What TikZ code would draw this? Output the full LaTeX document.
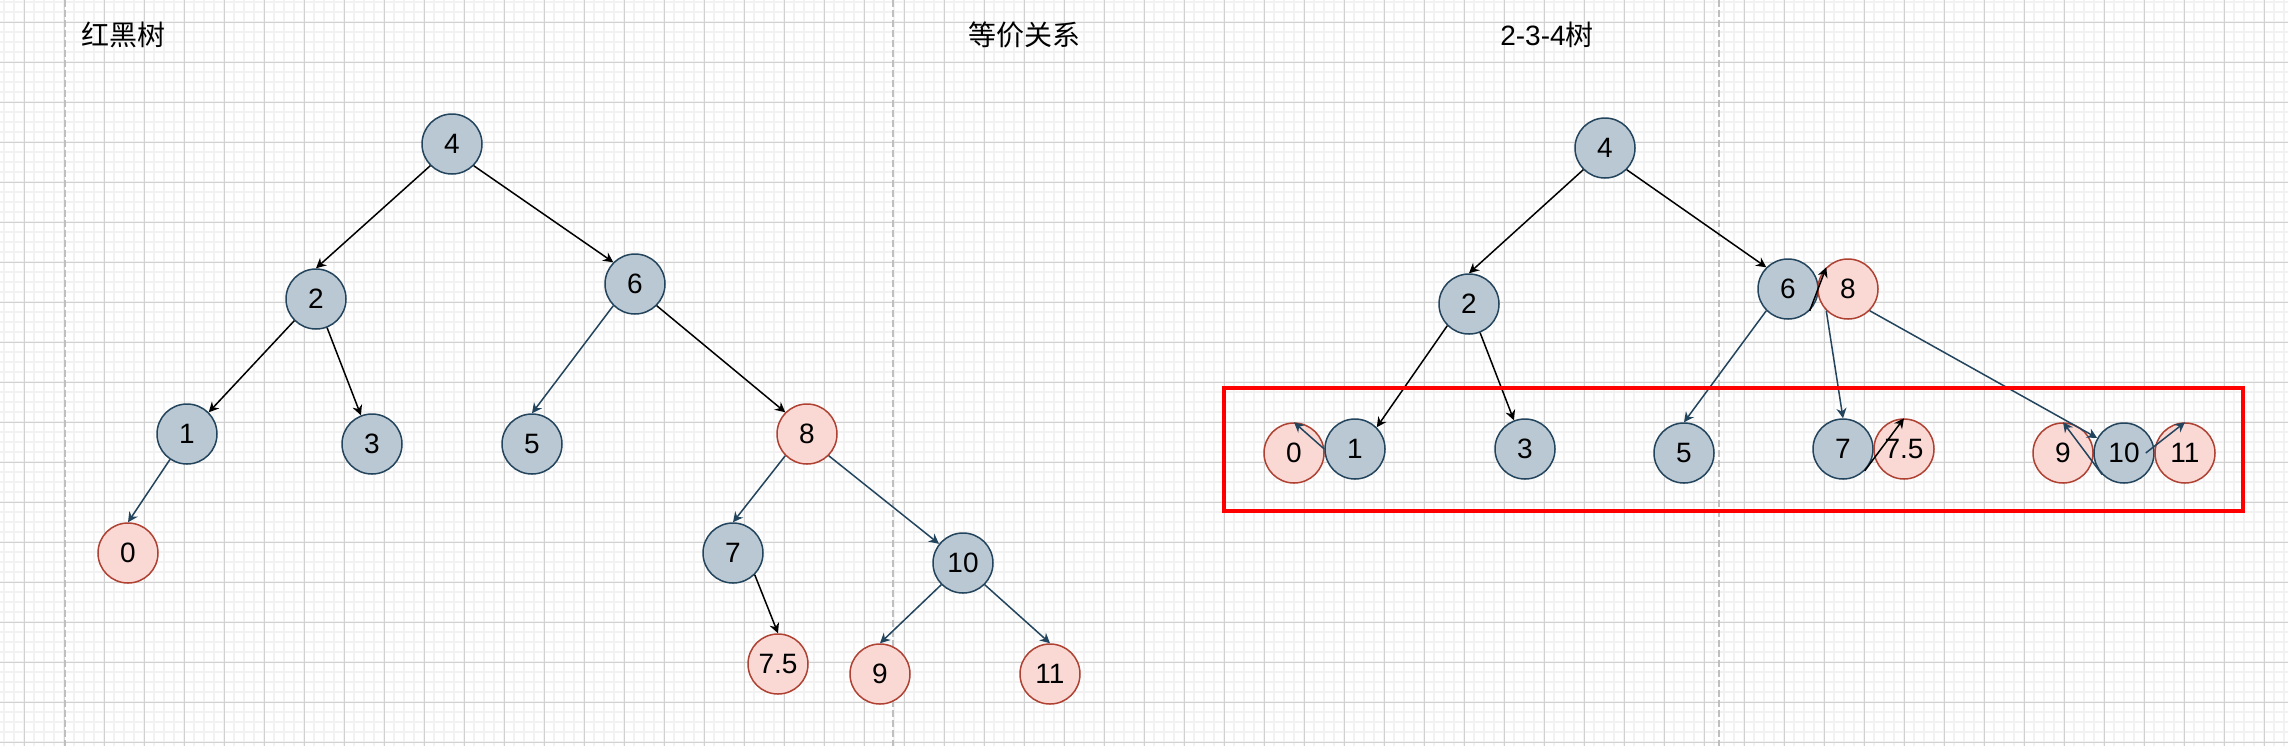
\documentclass[tikz,border=0pt]{standalone}
\usepackage{fontspec}
\setmainfont{Liberation Sans}
\newfontfamily\cjk{Noto Sans CJK SC}
\usetikzlibrary{arrows.meta}
\definecolor{bkfill}{HTML}{BAC8D3}
\definecolor{bkline}{HTML}{23445D}
\definecolor{rdfill}{HTML}{FAD9D5}
\definecolor{rdline}{HTML}{AE4132}
\begin{document}
\begin{tikzpicture}[>={Stealth[length=5pt,width=5pt]}, x=.5pt, y=-.5pt,
    blk/.style={circle, draw=bkline, fill=bkfill, line width=.75pt, minimum size=30pt, inner sep=0pt, font=\fontsize{14}{16}\selectfont},
    rd/.style={blk, draw=rdline, fill=rdfill},
    blue/.style={->, draw=bkline, line width=.75pt},
    blck/.style={->, draw=black, line width=.75pt},
    title/.style={font=\fontsize{14}{16}\selectfont}]
\fill[white](0,0) rectangle (2288,746);
\useasboundingbox (0,0) rectangle (2288,746);
% grid
\foreach \x in {4,14,...,2284}
{
    \draw[black!5, line width=.75pt](\x,0)--(\x,746);
}
\foreach \y in {2,12,...,742}
{
    \draw[black!5, line width=.75pt](0,\y)--(2288,\y);
}
\foreach \x in {24,64,...,2264}
{
    \draw[black!18, line width=.5pt](\x,0)--(\x,746);
}
\foreach \y in {22,62,...,742}
{
    \draw[black!18, line width=.5pt](0,\y)--(2288,\y);
}
\foreach \x in {65,893,1719}
{
    \draw[black!25, line width=1pt, dash pattern=on 3.5pt off 1.5pt](\x,0)--(\x,746);
}

\node (t1) at (123,35)[title]{\cjk 红黑树};
\node (t2) at (1024,35)[title]{\cjk 等价关系};
\node (t3) at (1547,35)[title]{2-3-4\cjk 树};

% red-black tree
\node (l4) at (452,144)[blk]{4};
\node (l2) at (316,299)[blk]{2};
\node (l6) at (635,284)[blk]{6};
\node (l1) at (187,434)[blk]{1};
\node (l3) at (372,444)[blk]{3};
\node (l5) at (532,444)[blk]{5};
\node (l8) at (807,434)[rd]{8};
\node (l0) at (128,553)[rd]{0};
\node (l7) at (733,553)[blk]{7};
\node (l10) at (963,563)[blk]{10};
\node (l75) at (778,664)[rd]{7.5};
\node (l9) at (880,674)[rd]{9};
\node (l11) at (1050,674)[rd]{11};

\draw[blck](l4.south west)--(l2.north);
\draw[blck](l4.south east)--(l6.north west);
\draw[blck](l2.south west)--(l1.north east);
\draw[blck](l2)--(l3);
\draw[blue](l6.south west)--(l5.north);
\draw[blck](l6.south east)--(l8.north west);
\draw[blue](l1)--(l0.north);
\draw[blue](l8.south west)--(l7.north);
\draw[blue](l8.south east)--(l10);
\draw[blck](l7.south east)--(l75.north);
\draw[blue](l10.south west)--(l9.north);
\draw[blue](l10.south east)--(l11.north);

% 2-3-4 tree
\node (r4) at (1605,148)[blk]{4};
\node (r2) at (1469,304)[blk]{2};
\node (r6) at (1788,289)[blk]{6};
\node (r8) at (1848,289)[rd]{8};
\node (r0) at (1294,453)[rd]{0};
\node (r1) at (1355,449)[blk]{1};
\node (r3) at (1525,449)[blk]{3};
\node (r5) at (1684,453)[blk]{5};
\node (r7) at (1843,449)[blk]{7};
\node (r75) at (1904,449)[rd]{7.5};
\node (r9) at (2063,453)[rd]{9};
\node (r10) at (2124,453)[blk]{10};
\node (r11) at (2185,453)[rd]{11};

\draw[blck](r4.south west)--(r2.north);
\draw[blck](r4.south east)--(r6.north west);
\draw[blck](r2.south west)--(r1.north east);
\draw[blck](r2)--(r3);
\draw[blue](r6.south west)--(r5.north);
\draw[blck](r6.south east)--(r8.north west);
\draw[blue](r1.west)--(r0.north);
\draw[blue](r8.south west)--(r7.north);
\draw[blue](r8.south east)--(r10);
\draw[blck](r7.south east)--(r75.north);
\draw[blue](r10.south west)--(r9.north);
\draw[blue]([xshift=-4.5pt]r10.east)--(r11.north);

\draw[red, line width=2pt](1224,388) rectangle (2243,511);
\end{tikzpicture}
\end{document}
